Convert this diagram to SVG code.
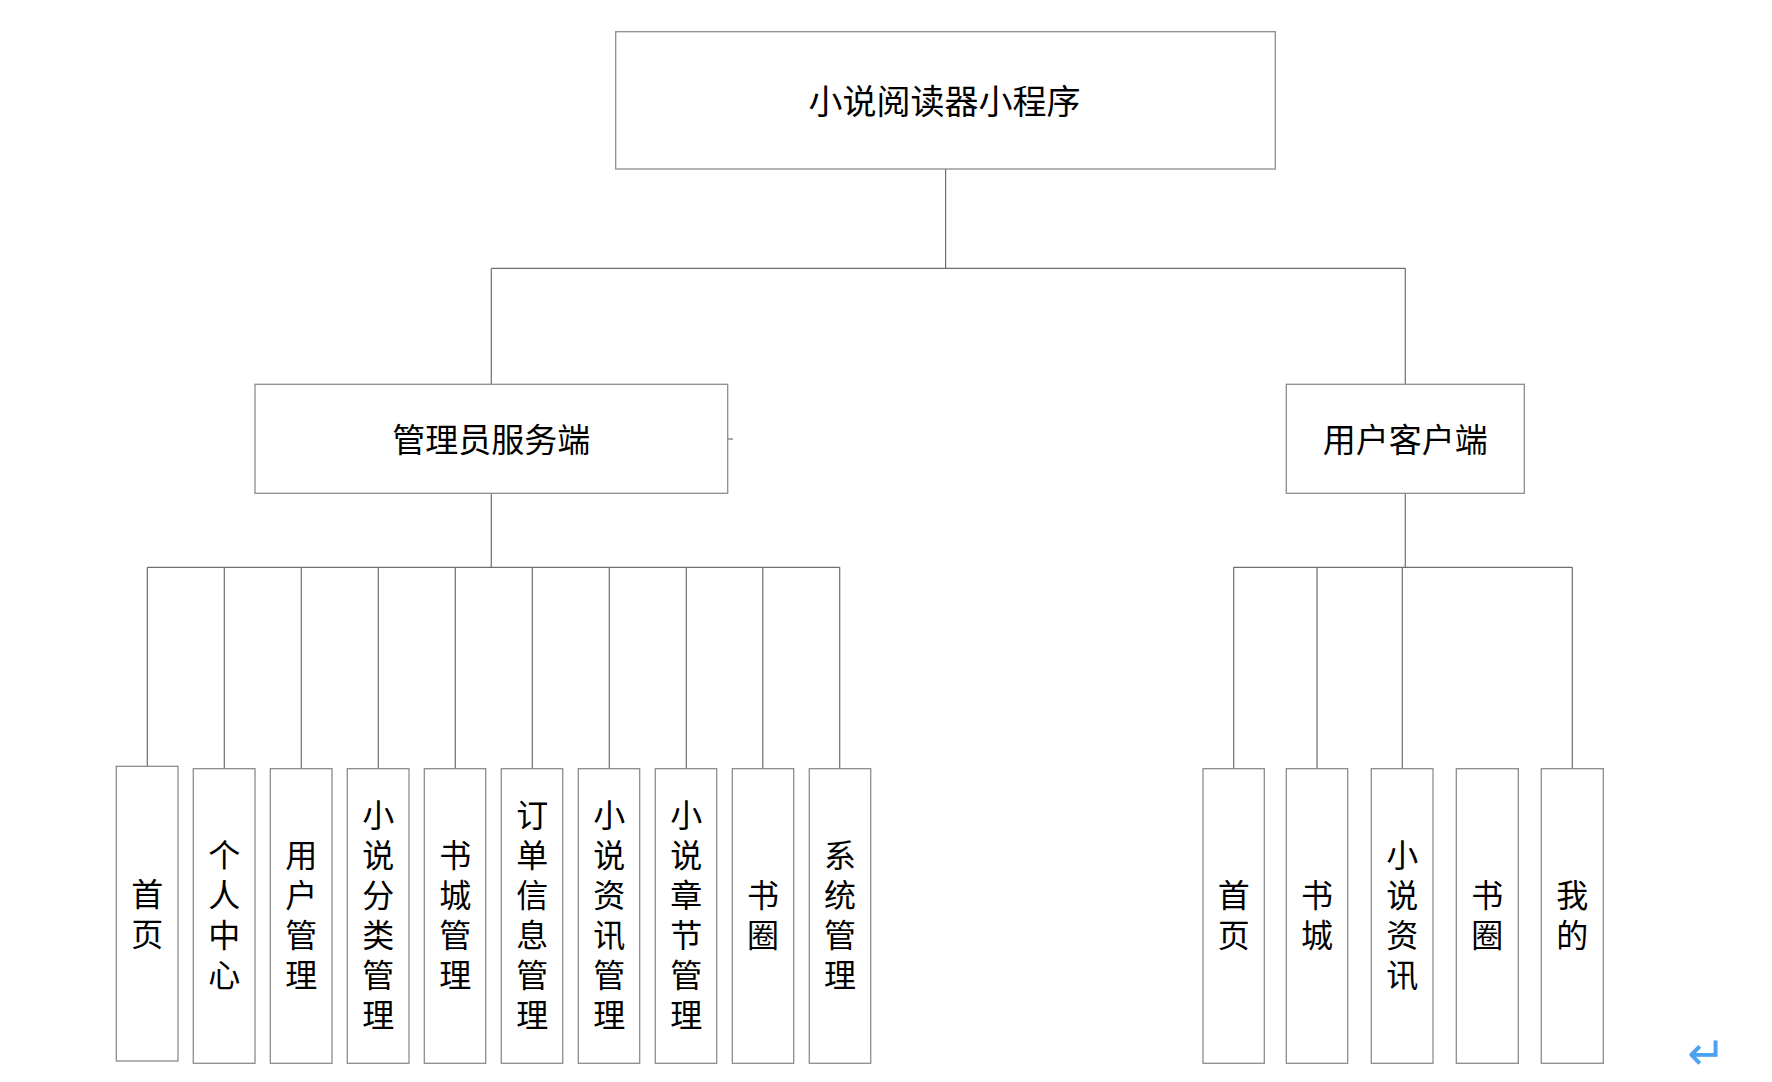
<svg xmlns="http://www.w3.org/2000/svg" width="1772" height="1082" viewBox="0 0 1772 1082">
<style>
.box{fill:#fff;stroke:#8c8c8c;stroke-width:1.3}
.ln{stroke:#6e6e6e;stroke-width:1.2;fill:none}
.t{font-family:"Noto Sans CJK SC","Liberation Serif",serif;fill:#000;text-anchor:middle;dominant-baseline:central}
.t1{font-size:34px}
.t2{font-size:33px}
.v{font-family:"Noto Sans CJK SC","Liberation Serif",serif;fill:#000;font-size:32px;writing-mode:vertical-rl;text-anchor:middle;letter-spacing:8px}
</style>
<rect width="1772" height="1082" fill="#fff"/>
<g id="connectors">
<line class="ln" x1="945.6" y1="169" x2="945.6" y2="268.3"/>
<line class="ln" x1="491.3" y1="268.3" x2="1405.3" y2="268.3"/>
<line class="ln" x1="491.3" y1="268.3" x2="491.3" y2="384.3"/>
<line class="ln" x1="1405.3" y1="268.3" x2="1405.3" y2="384.3"/>
<line class="ln" x1="728" y1="439" x2="733" y2="439"/>
<line class="ln" x1="491.3" y1="493.3" x2="491.3" y2="567.3"/>
<line class="ln" x1="147.3" y1="567.3" x2="839.7" y2="567.3"/>
<line class="ln" x1="147.3" y1="567.3" x2="147.3" y2="766.3"/>
<line class="ln" x1="224.3" y1="567.3" x2="224.3" y2="768.7"/>
<line class="ln" x1="301.3" y1="567.3" x2="301.3" y2="768.7"/>
<line class="ln" x1="378.3" y1="567.3" x2="378.3" y2="768.7"/>
<line class="ln" x1="455.3" y1="567.3" x2="455.3" y2="768.7"/>
<line class="ln" x1="532.3" y1="567.3" x2="532.3" y2="768.7"/>
<line class="ln" x1="609.3" y1="567.3" x2="609.3" y2="768.7"/>
<line class="ln" x1="686.3" y1="567.3" x2="686.3" y2="768.7"/>
<line class="ln" x1="762.8" y1="567.3" x2="762.8" y2="768.7"/>
<line class="ln" x1="839.7" y1="567.3" x2="839.7" y2="768.7"/>
<line class="ln" x1="1405.3" y1="493.3" x2="1405.3" y2="567.3"/>
<line class="ln" x1="1233.7" y1="567.3" x2="1572.3" y2="567.3"/>
<line class="ln" x1="1233.7" y1="567.3" x2="1233.7" y2="768.7"/>
<line class="ln" x1="1317" y1="567.3" x2="1317" y2="768.7"/>
<line class="ln" x1="1402.3" y1="567.3" x2="1402.3" y2="768.7"/>
<line class="ln" x1="1572.3" y1="567.3" x2="1572.3" y2="768.7"/>
</g>
<g id="root">
<rect class="box" x="615.7" y="31.7" width="659.6" height="137.3"/>
<text class="t t1" x="944.5" y="99">小说阅读器小程序</text>
</g>
<g id="admin">
<rect class="box" x="255" y="384.3" width="472.7" height="109"/>
<text class="t t2" x="491.3" y="438">管理员服务端</text>
</g>
<g id="user">
<rect class="box" x="1286.3" y="384.3" width="238" height="109"/>
<text class="t t2" x="1405.3" y="438">用户客户端</text>
</g>
<g id="a1"><rect class="box" x="116.3" y="766.3" width="61.7" height="294.7"/>
<text class="v" x="147.3" y="918">首页</text></g>
<g id="a2"><rect class="box" x="193.3" y="768.7" width="61.7" height="294.6"/>
<text class="v" x="224.3" y="919">个人中心</text></g>
<g id="a3"><rect class="box" x="270.3" y="768.7" width="61.7" height="294.6"/>
<text class="v" x="301.3" y="919">用户管理</text></g>
<g id="a4"><rect class="box" x="347.3" y="768.7" width="61.7" height="294.6"/>
<text class="v" x="378.3" y="919">小说分类管理</text></g>
<g id="a5"><rect class="box" x="424.3" y="768.7" width="61.4" height="294.6"/>
<text class="v" x="455.3" y="919">书城管理</text></g>
<g id="a6"><rect class="box" x="501.3" y="768.7" width="61.4" height="294.6"/>
<text class="v" x="532.3" y="919">订单信息管理</text></g>
<g id="a7"><rect class="box" x="578.3" y="768.7" width="61.4" height="294.6"/>
<text class="v" x="609.3" y="919">小说资讯管理</text></g>
<g id="a8"><rect class="box" x="655.3" y="768.7" width="61.4" height="294.6"/>
<text class="v" x="686.3" y="919">小说章节管理</text></g>
<g id="a9"><rect class="box" x="732.3" y="768.7" width="61.4" height="294.6"/>
<text class="v" x="763" y="919">书圈</text></g>
<g id="a10"><rect class="box" x="809.3" y="768.7" width="61.4" height="294.6"/>
<text class="v" x="840" y="919">系统管理</text></g>
<g id="u1"><rect class="box" x="1203" y="768.7" width="61.3" height="294.6"/>
<text class="v" x="1233.7" y="919">首页</text></g>
<g id="u2"><rect class="box" x="1286.3" y="768.7" width="61.4" height="294.6"/>
<text class="v" x="1317" y="919">书城</text></g>
<g id="u3"><rect class="box" x="1371.3" y="768.7" width="61.7" height="294.6"/>
<text class="v" x="1402.2" y="919">小说资讯</text></g>
<g id="u4"><rect class="box" x="1456.3" y="768.7" width="62" height="294.6"/>
<text class="v" x="1487.3" y="919">书圈</text></g>
<g id="u5"><rect class="box" x="1541.3" y="768.7" width="62" height="294.6"/>
<text class="v" x="1572.3" y="919">我的</text></g>
<text x="1706.5" y="1053" font-family="DejaVu Sans, sans-serif" font-size="46" fill="#4aa3f0" text-anchor="middle" dominant-baseline="central">↵</text>
</svg>
